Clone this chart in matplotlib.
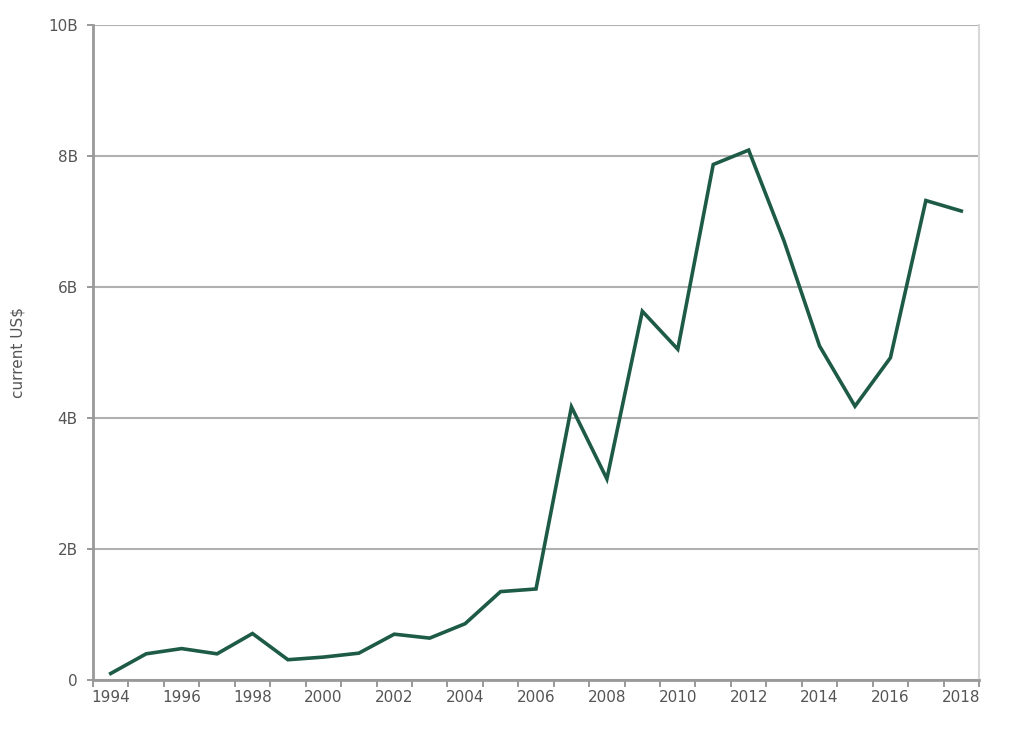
import numpy as np
import matplotlib.pyplot as plt
from matplotlib.ticker import FuncFormatter

years = list(range(1994, 2019))
values = [0.10, 0.40, 0.48, 0.40, 0.71, 0.31, 0.35, 0.41, 0.70, 0.64,
          0.86, 1.35, 1.39, 4.17, 3.07, 5.63, 5.05, 7.87, 8.09, 6.70,
          5.10, 4.18, 4.92, 7.32, 7.16]
values = [v * 1e9 for v in values]

line_color = '#1e5b47'
grid_color = '#b0b0b0'
text_color = '#555555'

plt.rcParams['font.family'] = 'DejaVu Sans'

fig = plt.figure(figsize=(10.30, 7.39), dpi=100)
ax = fig.add_axes([0.0903, 0.0798, 0.8602, 0.8864])

x = np.arange(len(years))
ax.plot(x, values, color=line_color, linewidth=2.6, solid_joinstyle='miter')

ax.set_xlim(-0.5, len(years) - 0.5)
ax.set_ylim(0, 10e9)

# category style axis: tick marks at boundaries, labels at centers
ax.set_xticks(np.arange(-0.5, len(years), 1.0), minor=True)
ax.set_xticks(x[::2])
ax.set_xticklabels([str(y) for y in years[::2]])
ax.tick_params(axis='x', which='major', length=0, pad=7)
ax.tick_params(axis='x', which='minor', length=5, width=1.2, color='#888888')

ax.set_yticks(np.arange(0, 10.1e9, 2e9))
ax.yaxis.set_major_formatter(FuncFormatter(lambda v, p: '0' if v == 0 else f'{v/1e9:.0f}B'))
ax.tick_params(axis='y', length=4, width=1.2, color='#888888', pad=7)
ax.tick_params(labelsize=11, labelcolor=text_color)

ax.grid(axis='y', color=grid_color, linewidth=1.5)
ax.set_axisbelow(True)

for side in ['left', 'bottom']:
    ax.spines[side].set_color('#999999')
    ax.spines[side].set_linewidth(2)
ax.spines['top'].set_visible(False)
ax.spines['right'].set_color('#d8d8d8')
ax.spines['right'].set_linewidth(1.5)

ax.set_ylabel('current US$', fontsize=11, color=text_color, labelpad=16)

fig.savefig('out.png', dpi=100, facecolor='white')
